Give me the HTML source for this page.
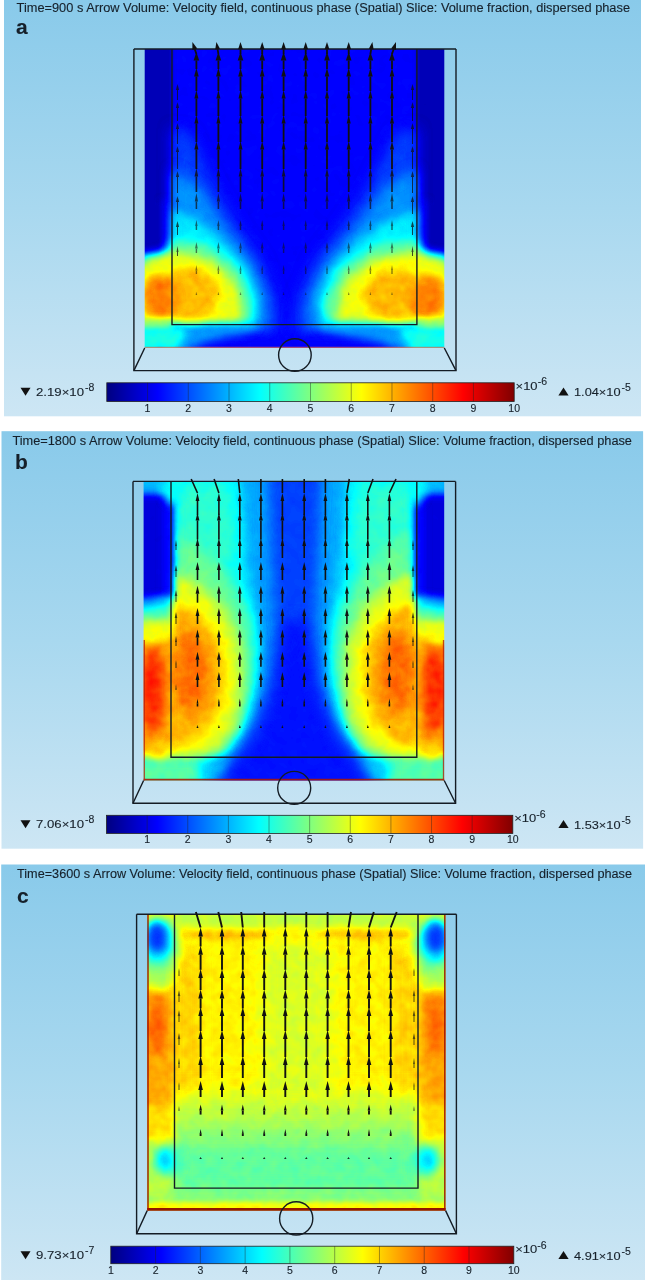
<!DOCTYPE html><html><head><meta charset="utf-8"><title>figure</title><style>html,body{margin:0;padding:0;background:#fff;width:645px;height:1280px;overflow:hidden}svg{display:block}text{font-family:"Liberation Sans",sans-serif;fill:#16202a;stroke:#16202a;stroke-width:0.12;opacity:0.999}.ar line{stroke:#111}.ar polygon{fill:#111}</style></head><body>
<svg width="645" height="1280" viewBox="0 0 645 1280">
<defs>
<linearGradient id="bg" x1="0" y1="0" x2="0" y2="1"><stop offset="0" stop-color="#89caea"/><stop offset="0.5" stop-color="#a8d8ef"/><stop offset="1" stop-color="#cde6f4"/></linearGradient>
<linearGradient id="jet" x1="0" y1="0" x2="1" y2="0"><stop offset="0" stop-color="#000080"/><stop offset="0.125" stop-color="#0000ff"/><stop offset="0.375" stop-color="#00ffff"/><stop offset="0.625" stop-color="#ffff00"/><stop offset="0.875" stop-color="#ff0000"/><stop offset="1" stop-color="#800000"/></linearGradient>
<filter id="cmap" x="0" y="0" width="1" height="1" color-interpolation-filters="sRGB"><feTurbulence type="fractalNoise" baseFrequency="0.09" numOctaves="2" seed="7" result="t"/><feColorMatrix in="t" type="matrix" values="1 0 0 0 0 1 0 0 0 0 1 0 0 0 0 0 0 0 0 1" result="n"/><feComposite in="SourceGraphic" in2="n" operator="arithmetic" k1="0.1" k2="0.95" k3="0" k4="0" result="s"/><feComponentTransfer in="s"><feFuncR type="table" tableValues="0 0 0 0 0.5 1 1 1 0.5"/><feFuncG type="table" tableValues="0 0 0.5 1 1 1 0.5 0 0"/><feFuncB type="table" tableValues="0.5 1 1 1 0.5 0 0 0 0"/></feComponentTransfer></filter>
<filter id="b2" x="-50%" y="-50%" width="200%" height="200%" color-interpolation-filters="sRGB"><feGaussianBlur stdDeviation="2"/></filter>
<filter id="b3" x="-50%" y="-50%" width="200%" height="200%" color-interpolation-filters="sRGB"><feGaussianBlur stdDeviation="3"/></filter>
<filter id="b4" x="-50%" y="-50%" width="200%" height="200%" color-interpolation-filters="sRGB"><feGaussianBlur stdDeviation="4"/></filter>
<filter id="b5" x="-50%" y="-50%" width="200%" height="200%" color-interpolation-filters="sRGB"><feGaussianBlur stdDeviation="5"/></filter>
<filter id="b6" x="-50%" y="-50%" width="200%" height="200%" color-interpolation-filters="sRGB"><feGaussianBlur stdDeviation="6"/></filter>
<filter id="b7" x="-50%" y="-50%" width="200%" height="200%" color-interpolation-filters="sRGB"><feGaussianBlur stdDeviation="7"/></filter>
<filter id="b8" x="-50%" y="-50%" width="200%" height="200%" color-interpolation-filters="sRGB"><feGaussianBlur stdDeviation="8"/></filter>
<filter id="b9" x="-50%" y="-50%" width="200%" height="200%" color-interpolation-filters="sRGB"><feGaussianBlur stdDeviation="9"/></filter>
<filter id="b10" x="-50%" y="-50%" width="200%" height="200%" color-interpolation-filters="sRGB"><feGaussianBlur stdDeviation="10"/></filter>
<clipPath id="clipa"><rect x="144.7" y="49" width="299.6" height="299"/></clipPath>
<clipPath id="clipb"><rect x="143.6" y="481.4" width="300.6" height="299.1"/></clipPath>
<clipPath id="clipc"><rect x="147.2" y="914.2" width="298.4" height="296.4"/></clipPath>
</defs>
<rect x="4" y="0" width="637" height="416.3" fill="url(#bg)"/>
<g clip-path="url(#clipa)"><g filter="url(#cmap)">
<rect x="124.7" y="29" width="339.6" height="339" fill="rgb(32,32,32)"/>
<g filter="url(#b2)">
<rect x="120" y="30" width="52" height="224" fill="rgb(14,14,14)"/>
</g>
<g filter="url(#b3)">
<rect x="160" y="200" width="12" height="66" fill="rgb(23,23,23)"/>
</g>
<g filter="url(#b7)">
<polygon points="172,128 190,133 215,188 240,230 262,262 276,300 280,330 172,330" fill="rgb(48,48,48)"/>
</g>
<g filter="url(#b6)">
<polygon points="172,168 200,188 228,230 252,262 266,295 268,328 172,328" fill="rgb(69,69,69)"/>
</g>
<g filter="url(#b5)">
<polygon points="172,210 200,222 226,244 248,270 258,300 256,326 172,326" fill="rgb(92,92,92)"/>
<polygon points="140,256 165,252 172,240 205,244 238,268 252,300 250,325 140,326" fill="rgb(122,122,122)"/>
</g>
<g filter="url(#b4)">
<polygon points="140,264 175,252 210,260 236,283 242,322 140,325" fill="rgb(156,156,156)"/>
</g>
<g filter="url(#b5)">
<ellipse cx="190" cy="295" rx="29" ry="27" fill="rgb(176,176,176)"/>
<ellipse cx="160" cy="298" rx="18" ry="24" fill="rgb(191,191,191)"/>
<polygon points="165,325 258,325 245,332 205,342 185,352 165,352" fill="rgb(71,71,71)"/>
</g>
<g filter="url(#b3)">
<rect x="130" y="318" width="42" height="12" fill="rgb(138,138,138)"/>
</g>
<g filter="url(#b4)">
<polygon points="130,328 172,326 188,330 176,352 130,352" fill="rgb(102,102,102)"/>
</g>
<g filter="url(#b2)">
<rect x="417" y="30" width="52" height="224" fill="rgb(14,14,14)"/>
</g>
<g filter="url(#b3)">
<rect x="417" y="200" width="12" height="66" fill="rgb(23,23,23)"/>
</g>
<g filter="url(#b7)">
<polygon points="417,128 396.3,133 367.55,188 338.8,230 313.5,262 297.4,300 292.8,330 417,330" fill="rgb(48,48,48)"/>
</g>
<g filter="url(#b6)">
<polygon points="417,168 384.8,188 352.6,230 325,262 308.9,295 306.6,328 417,328" fill="rgb(69,69,69)"/>
</g>
<g filter="url(#b5)">
<polygon points="417,210 384.8,222 354.9,244 329.6,270 318.1,300 320.4,326 417,326" fill="rgb(92,92,92)"/>
<polygon points="449,256 424,252 417,240 379.05,244 341.1,268 325,300 327.3,325 449,326" fill="rgb(122,122,122)"/>
</g>
<g filter="url(#b4)">
<polygon points="449,264 413.55,252 373.3,260 343.4,283 336.5,322 449,325" fill="rgb(156,156,156)"/>
</g>
<g filter="url(#b5)">
<ellipse cx="396.3" cy="295" rx="33.35" ry="27" fill="rgb(176,176,176)"/>
<ellipse cx="429" cy="298" rx="18" ry="24" fill="rgb(191,191,191)"/>
<polygon points="424,325 318.1,325 333.05,332 379.05,342 402.05,352 424,352" fill="rgb(71,71,71)"/>
</g>
<g filter="url(#b3)">
<rect x="417" y="318" width="42" height="12" fill="rgb(138,138,138)"/>
</g>
<g filter="url(#b4)">
<polygon points="459,328 417,326 398.6,330 412.4,352 459,352" fill="rgb(102,102,102)"/>
</g>
</g></g>
<line x1="144.7" y1="347.4" x2="444.3" y2="347.4" stroke="#e8704a" stroke-width="1.2" opacity="0.7"/>
<g fill="none" stroke="#141c24" stroke-width="1.4">
<path d="M133.9 49V370.6H456V49"/>
<path d="M133.9 49H456"/>
<path d="M133.9 370.6L144.7 348M456 370.6L444.3 348"/>
<path d="M172 49V324.6H416.9V49"/>
<circle cx="294.9" cy="355" r="16.3"/>
</g>
<g class="ar" style="stroke-width:1.8"><line x1="196.4" y1="54" x2="194.8" y2="49.2"/><polygon points="192.4,42 197.24,48.39 192.36,50.01"/><line x1="196.4" y1="69" x2="196.4" y2="60.5"/><polygon points="196.4,52 199.2,60.5 193.6,60.5"/><line x1="196.4" y1="91" x2="196.4" y2="76.5"/><polygon points="196.4,68 198.7,76.5 194.1,76.5"/><line x1="196.4" y1="116" x2="196.4" y2="98.5"/><polygon points="196.4,90 198.4,98.5 194.4,98.5"/><line x1="196.4" y1="142" x2="196.4" y2="123.5"/><polygon points="196.4,115 198.4,123.5 194.4,123.5"/><line x1="196.4" y1="169" x2="196.4" y2="149.5"/><polygon points="196.4,141 198.4,149.5 194.4,149.5"/><g opacity="0.85" style="stroke-width:1.67"><line x1="196.4" y1="192" x2="196.4" y2="176.5"/><polygon points="196.4,168 198.2,176.5 194.6,176.5"/></g><g opacity="0.7" style="stroke-width:1.53"><line x1="196.4" y1="209" x2="196.4" y2="201.5"/><polygon points="196.4,193 198,201.5 194.8,201.5"/></g><g opacity="0.6" style="stroke-width:1.44"><line x1="196.4" y1="230" x2="196.4" y2="226"/><polygon points="196.4,220 197.61,226 195.19,226"/></g><g opacity="0.55" style="stroke-width:1.4"><line x1="196.4" y1="253" x2="196.4" y2="248.6"/><polygon points="196.4,242 197.79,248.6 195.01,248.6"/></g><g opacity="0.5" style="stroke-width:1.35"><line x1="196.4" y1="274" x2="196.4" y2="270.4"/><polygon points="196.4,265 197.43,270.4 195.37,270.4"/></g><g opacity="0.5" style="stroke-width:1.35"><line x1="196.4" y1="295" x2="196.4" y2="293.8"/><polygon points="196.4,292 197,293.8 195.8,293.8"/></g><line x1="218.4" y1="54" x2="217.6" y2="49.2"/><polygon points="216.4,42 220,48.8 215.2,49.6"/><line x1="218.4" y1="69" x2="218.4" y2="60.5"/><polygon points="218.4,52 221.2,60.5 215.6,60.5"/><line x1="218.4" y1="91" x2="218.4" y2="76.5"/><polygon points="218.4,68 220.7,76.5 216.1,76.5"/><line x1="218.4" y1="116" x2="218.4" y2="98.5"/><polygon points="218.4,90 220.4,98.5 216.4,98.5"/><line x1="218.4" y1="142" x2="218.4" y2="123.5"/><polygon points="218.4,115 220.4,123.5 216.4,123.5"/><line x1="218.4" y1="169" x2="218.4" y2="149.5"/><polygon points="218.4,141 220.4,149.5 216.4,149.5"/><g opacity="0.85" style="stroke-width:1.67"><line x1="218.4" y1="192" x2="218.4" y2="176.5"/><polygon points="218.4,168 220.2,176.5 216.6,176.5"/></g><g opacity="0.7" style="stroke-width:1.53"><line x1="218.4" y1="209" x2="218.4" y2="201.5"/><polygon points="218.4,193 220,201.5 216.8,201.5"/></g><g opacity="0.6" style="stroke-width:1.44"><line x1="218.4" y1="230" x2="218.4" y2="226"/><polygon points="218.4,220 219.61,226 217.19,226"/></g><g opacity="0.55" style="stroke-width:1.4"><line x1="218.4" y1="253" x2="218.4" y2="248.6"/><polygon points="218.4,242 219.79,248.6 217.01,248.6"/></g><g opacity="0.5" style="stroke-width:1.35"><line x1="218.4" y1="274" x2="218.4" y2="270.4"/><polygon points="218.4,265 219.43,270.4 217.37,270.4"/></g><g opacity="0.5" style="stroke-width:1.35"><line x1="218.4" y1="295" x2="218.4" y2="293.8"/><polygon points="218.4,292 219,293.8 217.8,293.8"/></g><line x1="240.5" y1="54" x2="240.5" y2="49.2"/><polygon points="240.5,42 242.88,49.2 238.12,49.2"/><line x1="240.5" y1="69" x2="240.5" y2="60.5"/><polygon points="240.5,52 243.3,60.5 237.7,60.5"/><line x1="240.5" y1="91" x2="240.5" y2="76.5"/><polygon points="240.5,68 242.8,76.5 238.2,76.5"/><line x1="240.5" y1="116" x2="240.5" y2="98.5"/><polygon points="240.5,90 242.5,98.5 238.5,98.5"/><line x1="240.5" y1="142" x2="240.5" y2="123.5"/><polygon points="240.5,115 242.5,123.5 238.5,123.5"/><line x1="240.5" y1="169" x2="240.5" y2="149.5"/><polygon points="240.5,141 242.5,149.5 238.5,149.5"/><g opacity="0.85" style="stroke-width:1.67"><line x1="240.5" y1="192" x2="240.5" y2="176.5"/><polygon points="240.5,168 242.3,176.5 238.7,176.5"/></g><g opacity="0.7" style="stroke-width:1.53"><line x1="240.5" y1="209" x2="240.5" y2="201.5"/><polygon points="240.5,193 242.1,201.5 238.9,201.5"/></g><g opacity="0.6" style="stroke-width:1.44"><line x1="240.5" y1="230" x2="240.5" y2="226"/><polygon points="240.5,220 241.71,226 239.29,226"/></g><g opacity="0.55" style="stroke-width:1.4"><line x1="240.5" y1="253" x2="240.5" y2="248.6"/><polygon points="240.5,242 241.89,248.6 239.11,248.6"/></g><g opacity="0.5" style="stroke-width:1.35"><line x1="240.5" y1="274" x2="240.5" y2="270.4"/><polygon points="240.5,265 241.53,270.4 239.47,270.4"/></g><g opacity="0.5" style="stroke-width:1.35"><line x1="240.5" y1="295" x2="240.5" y2="293.8"/><polygon points="240.5,292 241.1,293.8 239.9,293.8"/></g><line x1="262.2" y1="54" x2="262.2" y2="49.2"/><polygon points="262.2,42 264.58,49.2 259.82,49.2"/><line x1="262.2" y1="69" x2="262.2" y2="60.5"/><polygon points="262.2,52 265,60.5 259.4,60.5"/><line x1="262.2" y1="91" x2="262.2" y2="76.5"/><polygon points="262.2,68 264.5,76.5 259.9,76.5"/><line x1="262.2" y1="116" x2="262.2" y2="98.5"/><polygon points="262.2,90 264.2,98.5 260.2,98.5"/><line x1="262.2" y1="142" x2="262.2" y2="123.5"/><polygon points="262.2,115 264.2,123.5 260.2,123.5"/><line x1="262.2" y1="169" x2="262.2" y2="149.5"/><polygon points="262.2,141 264.2,149.5 260.2,149.5"/><g opacity="0.85" style="stroke-width:1.67"><line x1="262.2" y1="192" x2="262.2" y2="176.5"/><polygon points="262.2,168 264,176.5 260.4,176.5"/></g><g opacity="0.7" style="stroke-width:1.53"><line x1="262.2" y1="209" x2="262.2" y2="201.5"/><polygon points="262.2,193 263.8,201.5 260.6,201.5"/></g><g opacity="0.6" style="stroke-width:1.44"><line x1="262.2" y1="230" x2="262.2" y2="226"/><polygon points="262.2,220 263.41,226 260.99,226"/></g><g opacity="0.55" style="stroke-width:1.4"><line x1="262.2" y1="253" x2="262.2" y2="248.6"/><polygon points="262.2,242 263.59,248.6 260.81,248.6"/></g><g opacity="0.5" style="stroke-width:1.35"><line x1="262.2" y1="274" x2="262.2" y2="270.4"/><polygon points="262.2,265 263.23,270.4 261.17,270.4"/></g><g opacity="0.5" style="stroke-width:1.35"><line x1="262.2" y1="295" x2="262.2" y2="293.8"/><polygon points="262.2,292 262.8,293.8 261.6,293.8"/></g><line x1="283.6" y1="54" x2="283.6" y2="49.2"/><polygon points="283.6,42 285.98,49.2 281.22,49.2"/><line x1="283.6" y1="69" x2="283.6" y2="60.5"/><polygon points="283.6,52 286.4,60.5 280.8,60.5"/><line x1="283.6" y1="91" x2="283.6" y2="76.5"/><polygon points="283.6,68 285.9,76.5 281.3,76.5"/><line x1="283.6" y1="116" x2="283.6" y2="98.5"/><polygon points="283.6,90 285.6,98.5 281.6,98.5"/><line x1="283.6" y1="142" x2="283.6" y2="123.5"/><polygon points="283.6,115 285.6,123.5 281.6,123.5"/><line x1="283.6" y1="169" x2="283.6" y2="149.5"/><polygon points="283.6,141 285.6,149.5 281.6,149.5"/><g opacity="0.85" style="stroke-width:1.67"><line x1="283.6" y1="192" x2="283.6" y2="176.5"/><polygon points="283.6,168 285.4,176.5 281.8,176.5"/></g><g opacity="0.7" style="stroke-width:1.53"><line x1="283.6" y1="209" x2="283.6" y2="201.5"/><polygon points="283.6,193 285.2,201.5 282,201.5"/></g><g opacity="0.6" style="stroke-width:1.44"><line x1="283.6" y1="230" x2="283.6" y2="226"/><polygon points="283.6,220 284.81,226 282.39,226"/></g><g opacity="0.55" style="stroke-width:1.4"><line x1="283.6" y1="253" x2="283.6" y2="248.6"/><polygon points="283.6,242 284.99,248.6 282.21,248.6"/></g><g opacity="0.5" style="stroke-width:1.35"><line x1="283.6" y1="274" x2="283.6" y2="270.4"/><polygon points="283.6,265 284.63,270.4 282.57,270.4"/></g><g opacity="0.5" style="stroke-width:1.35"><line x1="283.6" y1="295" x2="283.6" y2="293.8"/><polygon points="283.6,292 284.2,293.8 283,293.8"/></g><line x1="305.7" y1="54" x2="305.7" y2="49.2"/><polygon points="305.7,42 308.08,49.2 303.32,49.2"/><line x1="305.7" y1="69" x2="305.7" y2="60.5"/><polygon points="305.7,52 308.5,60.5 302.9,60.5"/><line x1="305.7" y1="91" x2="305.7" y2="76.5"/><polygon points="305.7,68 308,76.5 303.4,76.5"/><line x1="305.7" y1="116" x2="305.7" y2="98.5"/><polygon points="305.7,90 307.7,98.5 303.7,98.5"/><line x1="305.7" y1="142" x2="305.7" y2="123.5"/><polygon points="305.7,115 307.7,123.5 303.7,123.5"/><line x1="305.7" y1="169" x2="305.7" y2="149.5"/><polygon points="305.7,141 307.7,149.5 303.7,149.5"/><g opacity="0.85" style="stroke-width:1.67"><line x1="305.7" y1="192" x2="305.7" y2="176.5"/><polygon points="305.7,168 307.5,176.5 303.9,176.5"/></g><g opacity="0.7" style="stroke-width:1.53"><line x1="305.7" y1="209" x2="305.7" y2="201.5"/><polygon points="305.7,193 307.3,201.5 304.1,201.5"/></g><g opacity="0.6" style="stroke-width:1.44"><line x1="305.7" y1="230" x2="305.7" y2="226"/><polygon points="305.7,220 306.91,226 304.49,226"/></g><g opacity="0.55" style="stroke-width:1.4"><line x1="305.7" y1="253" x2="305.7" y2="248.6"/><polygon points="305.7,242 307.09,248.6 304.31,248.6"/></g><g opacity="0.5" style="stroke-width:1.35"><line x1="305.7" y1="274" x2="305.7" y2="270.4"/><polygon points="305.7,265 306.73,270.4 304.67,270.4"/></g><g opacity="0.5" style="stroke-width:1.35"><line x1="305.7" y1="295" x2="305.7" y2="293.8"/><polygon points="305.7,292 306.3,293.8 305.1,293.8"/></g><line x1="327" y1="54" x2="327" y2="49.2"/><polygon points="327,42 329.38,49.2 324.62,49.2"/><line x1="327" y1="69" x2="327" y2="60.5"/><polygon points="327,52 329.8,60.5 324.2,60.5"/><line x1="327" y1="91" x2="327" y2="76.5"/><polygon points="327,68 329.3,76.5 324.7,76.5"/><line x1="327" y1="116" x2="327" y2="98.5"/><polygon points="327,90 329,98.5 325,98.5"/><line x1="327" y1="142" x2="327" y2="123.5"/><polygon points="327,115 329,123.5 325,123.5"/><line x1="327" y1="169" x2="327" y2="149.5"/><polygon points="327,141 329,149.5 325,149.5"/><g opacity="0.85" style="stroke-width:1.67"><line x1="327" y1="192" x2="327" y2="176.5"/><polygon points="327,168 328.8,176.5 325.2,176.5"/></g><g opacity="0.7" style="stroke-width:1.53"><line x1="327" y1="209" x2="327" y2="201.5"/><polygon points="327,193 328.6,201.5 325.4,201.5"/></g><g opacity="0.6" style="stroke-width:1.44"><line x1="327" y1="230" x2="327" y2="226"/><polygon points="327,220 328.21,226 325.79,226"/></g><g opacity="0.55" style="stroke-width:1.4"><line x1="327" y1="253" x2="327" y2="248.6"/><polygon points="327,242 328.39,248.6 325.61,248.6"/></g><g opacity="0.5" style="stroke-width:1.35"><line x1="327" y1="274" x2="327" y2="270.4"/><polygon points="327,265 328.03,270.4 325.97,270.4"/></g><g opacity="0.5" style="stroke-width:1.35"><line x1="327" y1="295" x2="327" y2="293.8"/><polygon points="327,292 327.6,293.8 326.4,293.8"/></g><line x1="348.7" y1="54" x2="348.7" y2="49.2"/><polygon points="348.7,42 351.08,49.2 346.32,49.2"/><line x1="348.7" y1="69" x2="348.7" y2="60.5"/><polygon points="348.7,52 351.5,60.5 345.9,60.5"/><line x1="348.7" y1="91" x2="348.7" y2="76.5"/><polygon points="348.7,68 351,76.5 346.4,76.5"/><line x1="348.7" y1="116" x2="348.7" y2="98.5"/><polygon points="348.7,90 350.7,98.5 346.7,98.5"/><line x1="348.7" y1="142" x2="348.7" y2="123.5"/><polygon points="348.7,115 350.7,123.5 346.7,123.5"/><line x1="348.7" y1="169" x2="348.7" y2="149.5"/><polygon points="348.7,141 350.7,149.5 346.7,149.5"/><g opacity="0.85" style="stroke-width:1.67"><line x1="348.7" y1="192" x2="348.7" y2="176.5"/><polygon points="348.7,168 350.5,176.5 346.9,176.5"/></g><g opacity="0.7" style="stroke-width:1.53"><line x1="348.7" y1="209" x2="348.7" y2="201.5"/><polygon points="348.7,193 350.3,201.5 347.1,201.5"/></g><g opacity="0.6" style="stroke-width:1.44"><line x1="348.7" y1="230" x2="348.7" y2="226"/><polygon points="348.7,220 349.91,226 347.49,226"/></g><g opacity="0.55" style="stroke-width:1.4"><line x1="348.7" y1="253" x2="348.7" y2="248.6"/><polygon points="348.7,242 350.09,248.6 347.31,248.6"/></g><g opacity="0.5" style="stroke-width:1.35"><line x1="348.7" y1="274" x2="348.7" y2="270.4"/><polygon points="348.7,265 349.73,270.4 347.67,270.4"/></g><g opacity="0.5" style="stroke-width:1.35"><line x1="348.7" y1="295" x2="348.7" y2="293.8"/><polygon points="348.7,292 349.3,293.8 348.1,293.8"/></g><line x1="370.4" y1="54" x2="371.2" y2="49.2"/><polygon points="372.4,42 373.6,49.6 368.8,48.8"/><line x1="370.4" y1="69" x2="370.4" y2="60.5"/><polygon points="370.4,52 373.2,60.5 367.6,60.5"/><line x1="370.4" y1="91" x2="370.4" y2="76.5"/><polygon points="370.4,68 372.7,76.5 368.1,76.5"/><line x1="370.4" y1="116" x2="370.4" y2="98.5"/><polygon points="370.4,90 372.4,98.5 368.4,98.5"/><line x1="370.4" y1="142" x2="370.4" y2="123.5"/><polygon points="370.4,115 372.4,123.5 368.4,123.5"/><line x1="370.4" y1="169" x2="370.4" y2="149.5"/><polygon points="370.4,141 372.4,149.5 368.4,149.5"/><g opacity="0.85" style="stroke-width:1.67"><line x1="370.4" y1="192" x2="370.4" y2="176.5"/><polygon points="370.4,168 372.2,176.5 368.6,176.5"/></g><g opacity="0.7" style="stroke-width:1.53"><line x1="370.4" y1="209" x2="370.4" y2="201.5"/><polygon points="370.4,193 372,201.5 368.8,201.5"/></g><g opacity="0.6" style="stroke-width:1.44"><line x1="370.4" y1="230" x2="370.4" y2="226"/><polygon points="370.4,220 371.61,226 369.19,226"/></g><g opacity="0.55" style="stroke-width:1.4"><line x1="370.4" y1="253" x2="370.4" y2="248.6"/><polygon points="370.4,242 371.79,248.6 369.01,248.6"/></g><g opacity="0.5" style="stroke-width:1.35"><line x1="370.4" y1="274" x2="370.4" y2="270.4"/><polygon points="370.4,265 371.43,270.4 369.37,270.4"/></g><g opacity="0.5" style="stroke-width:1.35"><line x1="370.4" y1="295" x2="370.4" y2="293.8"/><polygon points="370.4,292 371,293.8 369.8,293.8"/></g><line x1="392" y1="54" x2="393.6" y2="49.2"/><polygon points="396,42 396.04,50.01 391.16,48.39"/><line x1="392" y1="69" x2="392" y2="60.5"/><polygon points="392,52 394.8,60.5 389.2,60.5"/><line x1="392" y1="91" x2="392" y2="76.5"/><polygon points="392,68 394.3,76.5 389.7,76.5"/><line x1="392" y1="116" x2="392" y2="98.5"/><polygon points="392,90 394,98.5 390,98.5"/><line x1="392" y1="142" x2="392" y2="123.5"/><polygon points="392,115 394,123.5 390,123.5"/><line x1="392" y1="169" x2="392" y2="149.5"/><polygon points="392,141 394,149.5 390,149.5"/><g opacity="0.85" style="stroke-width:1.67"><line x1="392" y1="192" x2="392" y2="176.5"/><polygon points="392,168 393.8,176.5 390.2,176.5"/></g><g opacity="0.7" style="stroke-width:1.53"><line x1="392" y1="209" x2="392" y2="201.5"/><polygon points="392,193 393.6,201.5 390.4,201.5"/></g><g opacity="0.6" style="stroke-width:1.44"><line x1="392" y1="230" x2="392" y2="226"/><polygon points="392,220 393.21,226 390.79,226"/></g><g opacity="0.55" style="stroke-width:1.4"><line x1="392" y1="253" x2="392" y2="248.6"/><polygon points="392,242 393.39,248.6 390.61,248.6"/></g><g opacity="0.5" style="stroke-width:1.35"><line x1="392" y1="274" x2="392" y2="270.4"/><polygon points="392,265 393.03,270.4 390.97,270.4"/></g><g opacity="0.5" style="stroke-width:1.35"><line x1="392" y1="295" x2="392" y2="293.8"/><polygon points="392,292 392.6,293.8 391.4,293.8"/></g></g><g class="ar" style="stroke-width:1" opacity="0.75"><line x1="177.5" y1="100" x2="177.5" y2="90"/><polygon points="177.5,84 179.1,90 175.9,90"/><line x1="177.5" y1="121" x2="177.5" y2="108"/><polygon points="177.5,102 179.1,108 175.9,108"/><line x1="177.5" y1="144" x2="177.5" y2="129"/><polygon points="177.5,123 179.1,129 175.9,129"/><line x1="177.5" y1="169" x2="177.5" y2="152"/><polygon points="177.5,146 179.1,152 175.9,152"/><line x1="177.5" y1="193" x2="177.5" y2="177"/><polygon points="177.5,171 179.1,177 175.9,177"/><line x1="177.5" y1="214" x2="177.5" y2="202"/><polygon points="177.5,196 179.1,202 175.9,202"/><line x1="177.5" y1="235" x2="177.5" y2="227"/><polygon points="177.5,221 179.1,227 175.9,227"/><line x1="177.5" y1="256" x2="177.5" y2="252"/><polygon points="177.5,246 178.47,252 176.53,252"/><line x1="412.5" y1="100" x2="412.5" y2="90"/><polygon points="412.5,84 414.1,90 410.9,90"/><line x1="412.5" y1="121" x2="412.5" y2="108"/><polygon points="412.5,102 414.1,108 410.9,108"/><line x1="412.5" y1="144" x2="412.5" y2="129"/><polygon points="412.5,123 414.1,129 410.9,129"/><line x1="412.5" y1="169" x2="412.5" y2="152"/><polygon points="412.5,146 414.1,152 410.9,152"/><line x1="412.5" y1="193" x2="412.5" y2="177"/><polygon points="412.5,171 414.1,177 410.9,177"/><line x1="412.5" y1="214" x2="412.5" y2="202"/><polygon points="412.5,196 414.1,202 410.9,202"/><line x1="412.5" y1="235" x2="412.5" y2="227"/><polygon points="412.5,221 414.1,227 410.9,227"/><line x1="412.5" y1="256" x2="412.5" y2="252"/><polygon points="412.5,246 413.47,252 411.53,252"/></g>
<rect x="106.8" y="382.8" width="407.4" height="18.7" fill="url(#jet)" stroke="#222" stroke-width="0.8"/>
<path d="M147.54 382.8V401.5M188.28 382.8V401.5M229.02 382.8V401.5M269.76 382.8V401.5M310.5 382.8V401.5M351.24 382.8V401.5M391.98 382.8V401.5M432.72 382.8V401.5M473.46 382.8V401.5" stroke="#222" stroke-width="0.7" stroke-opacity="0.6"/>
<text x="147.54" y="411.5" font-size="10.5" text-anchor="middle">1</text>
<text x="188.28" y="411.5" font-size="10.5" text-anchor="middle">2</text>
<text x="229.02" y="411.5" font-size="10.5" text-anchor="middle">3</text>
<text x="269.76" y="411.5" font-size="10.5" text-anchor="middle">4</text>
<text x="310.5" y="411.5" font-size="10.5" text-anchor="middle">5</text>
<text x="351.24" y="411.5" font-size="10.5" text-anchor="middle">6</text>
<text x="391.98" y="411.5" font-size="10.5" text-anchor="middle">7</text>
<text x="432.72" y="411.5" font-size="10.5" text-anchor="middle">8</text>
<text x="473.46" y="411.5" font-size="10.5" text-anchor="middle">9</text>
<text x="514.2" y="411.5" font-size="10.5" text-anchor="middle">10</text>
<text x="16.6" y="12" font-size="12" stroke="#16202a" stroke-width="0.15" textLength="613.4" lengthAdjust="spacingAndGlyphs">Time=900 s Arrow Volume: Velocity field, continuous phase (Spatial) Slice: Volume fraction, dispersed phase</text>
<text x="16" y="34" font-size="21" font-weight="bold" fill="#000">a</text>
<path d="M20.5 387.8H30.5L25.5 395.8Z" fill="#111"/>
<text x="36" y="395.6" font-size="11.3" textLength="48" lengthAdjust="spacingAndGlyphs">2.19×10</text>
<text x="85" y="390.6" font-size="10.5">-8</text>
<text x="515.6" y="389.7" font-size="11.3" textLength="22" lengthAdjust="spacingAndGlyphs">×10</text>
<text x="537.7" y="385.2" font-size="10.5">-6</text>
<path d="M558.4 395.6H568.6L563.5 387.6Z" fill="#111"/>
<text x="574" y="396.2" font-size="11.3" textLength="46.5" lengthAdjust="spacingAndGlyphs">1.04×10</text>
<text x="621.5" y="391.2" font-size="10.5">-5</text>
<rect x="1.5" y="431.2" width="641.6" height="417.5" fill="url(#bg)"/>
<g clip-path="url(#clipb)"><g filter="url(#cmap)">
<rect x="123.6" y="461.4" width="340.6" height="339.1" fill="rgb(64,64,64)"/>
<g filter="url(#b7)">
<polygon points="160,450 266,450 268,560 268,640 262,690 250,725 232,748 200,768 160,790" fill="rgb(74,74,74)"/>
</g>
<g filter="url(#b6)">
<polygon points="160,450 240,450 246,560 258,630 252,690 240,722 222,745 190,765 160,785" fill="rgb(94,94,94)"/>
</g>
<g filter="url(#b7)">
<polygon points="172,483 228,483 238,545 225,572 172,578" fill="rgb(107,107,107)"/>
<polygon points="172,530 200,548 230,575 250,620 255,660 250,700 242,730 228,752 200,765 172,770" fill="rgb(122,122,122)"/>
</g>
<g filter="url(#b6)">
<polygon points="165,568 200,585 225,610 240,645 242,690 235,725 220,748 200,758 165,760" fill="rgb(153,153,153)"/>
<polygon points="165,598 200,612 222,645 225,690 215,722 195,742 165,750" fill="rgb(178,178,178)"/>
</g>
<g filter="url(#b7)">
<ellipse cx="190" cy="672" rx="18" ry="42" fill="rgb(196,196,196)"/>
</g>
<g filter="url(#b4)">
<polygon points="120,494 172,494 172,598 120,604" fill="rgb(23,23,23)"/>
</g>
<g filter="url(#b3)">
<rect x="163" y="505" width="9" height="91" fill="rgb(33,33,33)"/>
<rect x="120" y="450" width="52" height="41" fill="rgb(79,79,79)"/>
</g>
<g filter="url(#b4)">
<ellipse cx="172" cy="488" rx="9" ry="16" fill="rgb(97,97,97)"/>
<polygon points="120,602 172,596 172,608 120,612" fill="rgb(71,71,71)"/>
<polygon points="120,612 172,604 172,622 120,624" fill="rgb(112,112,112)"/>
<polygon points="120,622 172,619 172,642 120,643" fill="rgb(156,156,156)"/>
</g>
<g filter="url(#b5)">
<polygon points="120,640 172,638 172,745 120,765" fill="rgb(186,186,186)"/>
<ellipse cx="153" cy="690" rx="12" ry="42" fill="rgb(212,212,212)"/>
</g>
<g filter="url(#b4)">
<ellipse cx="156" cy="752" rx="14" ry="12" fill="rgb(173,173,173)"/>
</g>
<g filter="url(#b5)">
<polygon points="130,760 200,760 215,790 130,790" fill="rgb(117,117,117)"/>
</g>
<g filter="url(#b6)">
<polygon points="200,760 235,760 250,790 200,790" fill="rgb(84,84,84)"/>
</g>
<g filter="url(#b7)">
<polygon points="428,450 322,450 320,560 320,640 326,690 338,725 356,748 388,768 428,790" fill="rgb(74,74,74)"/>
</g>
<g filter="url(#b6)">
<polygon points="428,450 348,450 342,560 330,630 336,690 348,722 366,745 398,765 428,785" fill="rgb(94,94,94)"/>
</g>
<g filter="url(#b7)">
<polygon points="416,483 360,483 350,545 363,572 416,578" fill="rgb(107,107,107)"/>
<polygon points="416,530 388,548 358,575 338,620 333,660 338,700 346,730 360,752 388,765 416,770" fill="rgb(122,122,122)"/>
</g>
<g filter="url(#b6)">
<polygon points="423,568 388,585 363,610 348,645 346,690 353,725 368,748 388,758 423,760" fill="rgb(153,153,153)"/>
<polygon points="423,598 388,612 366,645 363,690 373,722 393,742 423,750" fill="rgb(178,178,178)"/>
</g>
<g filter="url(#b7)">
<ellipse cx="398" cy="672" rx="18" ry="42" fill="rgb(196,196,196)"/>
</g>
<g filter="url(#b4)">
<polygon points="468,494 416,494 416,598 468,604" fill="rgb(23,23,23)"/>
</g>
<g filter="url(#b3)">
<rect x="416" y="505" width="9" height="91" fill="rgb(33,33,33)"/>
<rect x="416" y="450" width="52" height="41" fill="rgb(79,79,79)"/>
</g>
<g filter="url(#b4)">
<ellipse cx="416" cy="488" rx="9" ry="16" fill="rgb(97,97,97)"/>
<polygon points="468,602 416,596 416,608 468,612" fill="rgb(71,71,71)"/>
<polygon points="468,612 416,604 416,622 468,624" fill="rgb(112,112,112)"/>
<polygon points="468,622 416,619 416,642 468,643" fill="rgb(156,156,156)"/>
</g>
<g filter="url(#b5)">
<polygon points="468,640 416,638 416,745 468,765" fill="rgb(186,186,186)"/>
<ellipse cx="435" cy="690" rx="12" ry="42" fill="rgb(212,212,212)"/>
</g>
<g filter="url(#b4)">
<ellipse cx="432" cy="752" rx="14" ry="12" fill="rgb(173,173,173)"/>
</g>
<g filter="url(#b5)">
<polygon points="458,760 388,760 373,790 458,790" fill="rgb(117,117,117)"/>
</g>
<g filter="url(#b6)">
<polygon points="388,760 353,760 338,790 388,790" fill="rgb(84,84,84)"/>
<polygon points="271,450 321,450 316,560 312,620 318,680 330,720 350,750 380,790 210,790 240,750 260,720 272,680 278,620 274,560" fill="rgb(48,48,48)"/>
</g>
<g filter="url(#b7)">
<polygon points="285,620 305,620 315,690 335,740 360,770 370,800 220,800 230,770 255,740 275,690" fill="rgb(36,36,36)"/>
</g>
</g></g>
<line x1="143.6" y1="779.6" x2="444.2" y2="779.6" stroke="#a81808" stroke-width="1.8" opacity="0.9"/>
<line x1="144.3" y1="640" x2="144.3" y2="780.5" stroke="#b82010" stroke-width="1.3" opacity="0.8"/>
<line x1="443.5" y1="640" x2="443.5" y2="780.5" stroke="#b82010" stroke-width="1.3" opacity="0.8"/>
<g fill="none" stroke="#141c24" stroke-width="1.4">
<path d="M133 481.4V803.3H455.6V481.4"/>
<path d="M133 481.4H455.6"/>
<path d="M133 803.3L143.6 780.5M455.6 803.3L444.2 780.5"/>
<path d="M171 481.4V757.2H416.8V481.4"/>
<circle cx="294.2" cy="787.9" r="16.5"/>
</g>
<g class="ar" style="stroke-width:1.6"><line x1="197.5" y1="515" x2="197.5" y2="501"/><polygon points="197.5,493 199.4,501 195.6,501"/><line x1="197.5" y1="539.5" x2="197.5" y2="520.5"/><polygon points="197.5,512.5 199.4,520.5 195.6,520.5"/><line x1="197.5" y1="558" x2="197.5" y2="546"/><polygon points="197.5,538 199.4,546 195.6,546"/><line x1="197.5" y1="580" x2="197.5" y2="570"/><polygon points="197.5,562 199.4,570 195.6,570"/><line x1="197.5" y1="602.7" x2="197.5" y2="593.7"/><polygon points="197.5,585.7 199.4,593.7 195.6,593.7"/><line x1="197.5" y1="624" x2="197.5" y2="616"/><polygon points="197.5,608 199.4,616 195.6,616"/><line x1="197.5" y1="645.4" x2="197.5" y2="637.4"/><polygon points="197.5,629.4 199.4,637.4 195.6,637.4"/><line x1="197.5" y1="666.7" x2="197.5" y2="659.7"/><polygon points="197.5,651.7 199.4,659.7 195.6,659.7"/><line x1="197.5" y1="687" x2="197.5" y2="680"/><polygon points="197.5,672 199.4,680 195.6,680"/><line x1="197.5" y1="706.5" x2="197.5" y2="703.3"/><polygon points="197.5,698.5 198.32,703.3 196.68,703.3"/><line x1="197.5" y1="728" x2="197.5" y2="726.8"/><polygon points="197.5,725 198.07,726.8 196.93,726.8"/><line x1="197.5" y1="493" x2="191.2" y2="479"/><line x1="218.9" y1="515" x2="218.9" y2="501"/><polygon points="218.9,493 220.8,501 217,501"/><line x1="218.9" y1="539.5" x2="218.9" y2="520.5"/><polygon points="218.9,512.5 220.8,520.5 217,520.5"/><line x1="218.9" y1="558" x2="218.9" y2="546"/><polygon points="218.9,538 220.8,546 217,546"/><line x1="218.9" y1="580" x2="218.9" y2="570"/><polygon points="218.9,562 220.8,570 217,570"/><line x1="218.9" y1="602.7" x2="218.9" y2="593.7"/><polygon points="218.9,585.7 220.8,593.7 217,593.7"/><line x1="218.9" y1="624" x2="218.9" y2="616"/><polygon points="218.9,608 220.8,616 217,616"/><line x1="218.9" y1="645.4" x2="218.9" y2="637.4"/><polygon points="218.9,629.4 220.8,637.4 217,637.4"/><line x1="218.9" y1="666.7" x2="218.9" y2="659.7"/><polygon points="218.9,651.7 220.8,659.7 217,659.7"/><line x1="218.9" y1="687" x2="218.9" y2="680"/><polygon points="218.9,672 220.8,680 217,680"/><line x1="218.9" y1="706.5" x2="218.9" y2="703.3"/><polygon points="218.9,698.5 219.72,703.3 218.08,703.3"/><line x1="218.9" y1="728" x2="218.9" y2="726.8"/><polygon points="218.9,725 219.47,726.8 218.33,726.8"/><line x1="218.9" y1="493" x2="214.1" y2="479"/><line x1="239.8" y1="515" x2="239.8" y2="501"/><polygon points="239.8,493 241.7,501 237.9,501"/><line x1="239.8" y1="539.5" x2="239.8" y2="520.5"/><polygon points="239.8,512.5 241.7,520.5 237.9,520.5"/><line x1="239.8" y1="558" x2="239.8" y2="546"/><polygon points="239.8,538 241.7,546 237.9,546"/><line x1="239.8" y1="580" x2="239.8" y2="570"/><polygon points="239.8,562 241.7,570 237.9,570"/><line x1="239.8" y1="602.7" x2="239.8" y2="593.7"/><polygon points="239.8,585.7 241.7,593.7 237.9,593.7"/><line x1="239.8" y1="624" x2="239.8" y2="616"/><polygon points="239.8,608 241.7,616 237.9,616"/><line x1="239.8" y1="645.4" x2="239.8" y2="637.4"/><polygon points="239.8,629.4 241.7,637.4 237.9,637.4"/><line x1="239.8" y1="666.7" x2="239.8" y2="659.7"/><polygon points="239.8,651.7 241.7,659.7 237.9,659.7"/><line x1="239.8" y1="687" x2="239.8" y2="680"/><polygon points="239.8,672 241.7,680 237.9,680"/><line x1="239.8" y1="706.5" x2="239.8" y2="703.3"/><polygon points="239.8,698.5 240.62,703.3 238.98,703.3"/><line x1="239.8" y1="728" x2="239.8" y2="726.8"/><polygon points="239.8,725 240.37,726.8 239.23,726.8"/><line x1="239.8" y1="493" x2="238.3" y2="479"/><line x1="260.9" y1="515" x2="260.9" y2="501"/><polygon points="260.9,493 262.8,501 259,501"/><line x1="260.9" y1="539.5" x2="260.9" y2="520.5"/><polygon points="260.9,512.5 262.8,520.5 259,520.5"/><line x1="260.9" y1="558" x2="260.9" y2="546"/><polygon points="260.9,538 262.8,546 259,546"/><line x1="260.9" y1="580" x2="260.9" y2="570"/><polygon points="260.9,562 262.8,570 259,570"/><line x1="260.9" y1="602.7" x2="260.9" y2="593.7"/><polygon points="260.9,585.7 262.8,593.7 259,593.7"/><line x1="260.9" y1="624" x2="260.9" y2="616"/><polygon points="260.9,608 262.8,616 259,616"/><line x1="260.9" y1="645.4" x2="260.9" y2="637.4"/><polygon points="260.9,629.4 262.8,637.4 259,637.4"/><line x1="260.9" y1="666.7" x2="260.9" y2="659.7"/><polygon points="260.9,651.7 262.8,659.7 259,659.7"/><line x1="260.9" y1="687" x2="260.9" y2="680"/><polygon points="260.9,672 262.8,680 259,680"/><line x1="260.9" y1="706.5" x2="260.9" y2="703.3"/><polygon points="260.9,698.5 261.72,703.3 260.08,703.3"/><line x1="260.9" y1="728" x2="260.9" y2="726.8"/><polygon points="260.9,725 261.47,726.8 260.33,726.8"/><line x1="260.9" y1="493" x2="260.9" y2="479"/><line x1="282.4" y1="515" x2="282.4" y2="501"/><polygon points="282.4,493 284.3,501 280.5,501"/><line x1="282.4" y1="539.5" x2="282.4" y2="520.5"/><polygon points="282.4,512.5 284.3,520.5 280.5,520.5"/><line x1="282.4" y1="558" x2="282.4" y2="546"/><polygon points="282.4,538 284.3,546 280.5,546"/><line x1="282.4" y1="580" x2="282.4" y2="570"/><polygon points="282.4,562 284.3,570 280.5,570"/><line x1="282.4" y1="602.7" x2="282.4" y2="593.7"/><polygon points="282.4,585.7 284.3,593.7 280.5,593.7"/><line x1="282.4" y1="624" x2="282.4" y2="616"/><polygon points="282.4,608 284.3,616 280.5,616"/><line x1="282.4" y1="645.4" x2="282.4" y2="637.4"/><polygon points="282.4,629.4 284.3,637.4 280.5,637.4"/><line x1="282.4" y1="666.7" x2="282.4" y2="659.7"/><polygon points="282.4,651.7 284.3,659.7 280.5,659.7"/><line x1="282.4" y1="687" x2="282.4" y2="680"/><polygon points="282.4,672 284.3,680 280.5,680"/><line x1="282.4" y1="706.5" x2="282.4" y2="703.3"/><polygon points="282.4,698.5 283.22,703.3 281.58,703.3"/><line x1="282.4" y1="728" x2="282.4" y2="726.8"/><polygon points="282.4,725 282.97,726.8 281.83,726.8"/><line x1="282.4" y1="493" x2="282.4" y2="479"/><line x1="304.2" y1="515" x2="304.2" y2="501"/><polygon points="304.2,493 306.1,501 302.3,501"/><line x1="304.2" y1="539.5" x2="304.2" y2="520.5"/><polygon points="304.2,512.5 306.1,520.5 302.3,520.5"/><line x1="304.2" y1="558" x2="304.2" y2="546"/><polygon points="304.2,538 306.1,546 302.3,546"/><line x1="304.2" y1="580" x2="304.2" y2="570"/><polygon points="304.2,562 306.1,570 302.3,570"/><line x1="304.2" y1="602.7" x2="304.2" y2="593.7"/><polygon points="304.2,585.7 306.1,593.7 302.3,593.7"/><line x1="304.2" y1="624" x2="304.2" y2="616"/><polygon points="304.2,608 306.1,616 302.3,616"/><line x1="304.2" y1="645.4" x2="304.2" y2="637.4"/><polygon points="304.2,629.4 306.1,637.4 302.3,637.4"/><line x1="304.2" y1="666.7" x2="304.2" y2="659.7"/><polygon points="304.2,651.7 306.1,659.7 302.3,659.7"/><line x1="304.2" y1="687" x2="304.2" y2="680"/><polygon points="304.2,672 306.1,680 302.3,680"/><line x1="304.2" y1="706.5" x2="304.2" y2="703.3"/><polygon points="304.2,698.5 305.02,703.3 303.38,703.3"/><line x1="304.2" y1="728" x2="304.2" y2="726.8"/><polygon points="304.2,725 304.77,726.8 303.63,726.8"/><line x1="304.2" y1="493" x2="304.2" y2="479"/><line x1="325.4" y1="515" x2="325.4" y2="501"/><polygon points="325.4,493 327.3,501 323.5,501"/><line x1="325.4" y1="539.5" x2="325.4" y2="520.5"/><polygon points="325.4,512.5 327.3,520.5 323.5,520.5"/><line x1="325.4" y1="558" x2="325.4" y2="546"/><polygon points="325.4,538 327.3,546 323.5,546"/><line x1="325.4" y1="580" x2="325.4" y2="570"/><polygon points="325.4,562 327.3,570 323.5,570"/><line x1="325.4" y1="602.7" x2="325.4" y2="593.7"/><polygon points="325.4,585.7 327.3,593.7 323.5,593.7"/><line x1="325.4" y1="624" x2="325.4" y2="616"/><polygon points="325.4,608 327.3,616 323.5,616"/><line x1="325.4" y1="645.4" x2="325.4" y2="637.4"/><polygon points="325.4,629.4 327.3,637.4 323.5,637.4"/><line x1="325.4" y1="666.7" x2="325.4" y2="659.7"/><polygon points="325.4,651.7 327.3,659.7 323.5,659.7"/><line x1="325.4" y1="687" x2="325.4" y2="680"/><polygon points="325.4,672 327.3,680 323.5,680"/><line x1="325.4" y1="706.5" x2="325.4" y2="703.3"/><polygon points="325.4,698.5 326.22,703.3 324.58,703.3"/><line x1="325.4" y1="728" x2="325.4" y2="726.8"/><polygon points="325.4,725 325.97,726.8 324.83,726.8"/><line x1="325.4" y1="493" x2="325.4" y2="479"/><line x1="346.9" y1="515" x2="346.9" y2="501"/><polygon points="346.9,493 348.8,501 345,501"/><line x1="346.9" y1="539.5" x2="346.9" y2="520.5"/><polygon points="346.9,512.5 348.8,520.5 345,520.5"/><line x1="346.9" y1="558" x2="346.9" y2="546"/><polygon points="346.9,538 348.8,546 345,546"/><line x1="346.9" y1="580" x2="346.9" y2="570"/><polygon points="346.9,562 348.8,570 345,570"/><line x1="346.9" y1="602.7" x2="346.9" y2="593.7"/><polygon points="346.9,585.7 348.8,593.7 345,593.7"/><line x1="346.9" y1="624" x2="346.9" y2="616"/><polygon points="346.9,608 348.8,616 345,616"/><line x1="346.9" y1="645.4" x2="346.9" y2="637.4"/><polygon points="346.9,629.4 348.8,637.4 345,637.4"/><line x1="346.9" y1="666.7" x2="346.9" y2="659.7"/><polygon points="346.9,651.7 348.8,659.7 345,659.7"/><line x1="346.9" y1="687" x2="346.9" y2="680"/><polygon points="346.9,672 348.8,680 345,680"/><line x1="346.9" y1="706.5" x2="346.9" y2="703.3"/><polygon points="346.9,698.5 347.72,703.3 346.08,703.3"/><line x1="346.9" y1="728" x2="346.9" y2="726.8"/><polygon points="346.9,725 347.47,726.8 346.33,726.8"/><line x1="346.9" y1="493" x2="349.3" y2="479"/><line x1="367.8" y1="515" x2="367.8" y2="501"/><polygon points="367.8,493 369.7,501 365.9,501"/><line x1="367.8" y1="539.5" x2="367.8" y2="520.5"/><polygon points="367.8,512.5 369.7,520.5 365.9,520.5"/><line x1="367.8" y1="558" x2="367.8" y2="546"/><polygon points="367.8,538 369.7,546 365.9,546"/><line x1="367.8" y1="580" x2="367.8" y2="570"/><polygon points="367.8,562 369.7,570 365.9,570"/><line x1="367.8" y1="602.7" x2="367.8" y2="593.7"/><polygon points="367.8,585.7 369.7,593.7 365.9,593.7"/><line x1="367.8" y1="624" x2="367.8" y2="616"/><polygon points="367.8,608 369.7,616 365.9,616"/><line x1="367.8" y1="645.4" x2="367.8" y2="637.4"/><polygon points="367.8,629.4 369.7,637.4 365.9,637.4"/><line x1="367.8" y1="666.7" x2="367.8" y2="659.7"/><polygon points="367.8,651.7 369.7,659.7 365.9,659.7"/><line x1="367.8" y1="687" x2="367.8" y2="680"/><polygon points="367.8,672 369.7,680 365.9,680"/><line x1="367.8" y1="706.5" x2="367.8" y2="703.3"/><polygon points="367.8,698.5 368.62,703.3 366.98,703.3"/><line x1="367.8" y1="728" x2="367.8" y2="726.8"/><polygon points="367.8,725 368.37,726.8 367.23,726.8"/><line x1="367.8" y1="493" x2="373" y2="479"/><line x1="389.4" y1="515" x2="389.4" y2="501"/><polygon points="389.4,493 391.3,501 387.5,501"/><line x1="389.4" y1="539.5" x2="389.4" y2="520.5"/><polygon points="389.4,512.5 391.3,520.5 387.5,520.5"/><line x1="389.4" y1="558" x2="389.4" y2="546"/><polygon points="389.4,538 391.3,546 387.5,546"/><line x1="389.4" y1="580" x2="389.4" y2="570"/><polygon points="389.4,562 391.3,570 387.5,570"/><line x1="389.4" y1="602.7" x2="389.4" y2="593.7"/><polygon points="389.4,585.7 391.3,593.7 387.5,593.7"/><line x1="389.4" y1="624" x2="389.4" y2="616"/><polygon points="389.4,608 391.3,616 387.5,616"/><line x1="389.4" y1="645.4" x2="389.4" y2="637.4"/><polygon points="389.4,629.4 391.3,637.4 387.5,637.4"/><line x1="389.4" y1="666.7" x2="389.4" y2="659.7"/><polygon points="389.4,651.7 391.3,659.7 387.5,659.7"/><line x1="389.4" y1="687" x2="389.4" y2="680"/><polygon points="389.4,672 391.3,680 387.5,680"/><line x1="389.4" y1="706.5" x2="389.4" y2="703.3"/><polygon points="389.4,698.5 390.22,703.3 388.58,703.3"/><line x1="389.4" y1="728" x2="389.4" y2="726.8"/><polygon points="389.4,725 389.97,726.8 388.83,726.8"/><line x1="389.4" y1="493" x2="396" y2="479"/></g><g class="ar" style="stroke-width:1" opacity="0.8"><line x1="176" y1="550" x2="176" y2="546"/><polygon points="176,540 176.97,546 175.03,546"/><line x1="176" y1="577" x2="176" y2="571"/><polygon points="176,565 177.27,571 174.73,571"/><line x1="176" y1="602" x2="176" y2="596"/><polygon points="176,590 177.27,596 174.73,596"/><line x1="176" y1="624" x2="176" y2="618"/><polygon points="176,612 177.27,618 174.73,618"/><line x1="176" y1="646" x2="176" y2="642"/><polygon points="176,636 176.97,642 175.03,642"/><line x1="176" y1="668" x2="176" y2="664.8"/><polygon points="176,660 176.69,664.8 175.31,664.8"/><line x1="176" y1="690" x2="176" y2="687.6"/><polygon points="176,684 176.48,687.6 175.52,687.6"/><line x1="413" y1="550" x2="413" y2="546"/><polygon points="413,540 413.97,546 412.03,546"/><line x1="413" y1="577" x2="413" y2="571"/><polygon points="413,565 414.27,571 411.73,571"/><line x1="413" y1="602" x2="413" y2="596"/><polygon points="413,590 414.27,596 411.73,596"/><line x1="413" y1="624" x2="413" y2="618"/><polygon points="413,612 414.27,618 411.73,618"/><line x1="413" y1="646" x2="413" y2="642"/><polygon points="413,636 413.97,642 412.03,642"/><line x1="413" y1="668" x2="413" y2="664.8"/><polygon points="413,660 413.69,664.8 412.31,664.8"/><line x1="413" y1="690" x2="413" y2="687.6"/><polygon points="413,684 413.48,687.6 412.52,687.6"/></g>
<rect x="106.5" y="815.3" width="406.3" height="18.1" fill="url(#jet)" stroke="#222" stroke-width="0.8"/>
<path d="M147.13 815.3V833.4M187.76 815.3V833.4M228.39 815.3V833.4M269.02 815.3V833.4M309.65 815.3V833.4M350.28 815.3V833.4M390.91 815.3V833.4M431.54 815.3V833.4M472.17 815.3V833.4" stroke="#222" stroke-width="0.7" stroke-opacity="0.6"/>
<text x="147.13" y="843.4" font-size="10.5" text-anchor="middle">1</text>
<text x="187.76" y="843.4" font-size="10.5" text-anchor="middle">2</text>
<text x="228.39" y="843.4" font-size="10.5" text-anchor="middle">3</text>
<text x="269.02" y="843.4" font-size="10.5" text-anchor="middle">4</text>
<text x="309.65" y="843.4" font-size="10.5" text-anchor="middle">5</text>
<text x="350.28" y="843.4" font-size="10.5" text-anchor="middle">6</text>
<text x="390.91" y="843.4" font-size="10.5" text-anchor="middle">7</text>
<text x="431.54" y="843.4" font-size="10.5" text-anchor="middle">8</text>
<text x="472.17" y="843.4" font-size="10.5" text-anchor="middle">9</text>
<text x="512.8" y="843.4" font-size="10.5" text-anchor="middle">10</text>
<text x="12.4" y="444.6" font-size="12" stroke="#16202a" stroke-width="0.15" textLength="619.6" lengthAdjust="spacingAndGlyphs">Time=1800 s Arrow Volume: Velocity field, continuous phase (Spatial) Slice: Volume fraction, dispersed phase</text>
<text x="15" y="468.8" font-size="21" font-weight="bold" fill="#000">b</text>
<path d="M20.5 820.3H30.5L25.5 828.3Z" fill="#111"/>
<text x="36" y="828.1" font-size="11.3" textLength="48" lengthAdjust="spacingAndGlyphs">7.06×10</text>
<text x="85" y="823.1" font-size="10.5">-8</text>
<text x="514.2" y="822.2" font-size="11.3" textLength="22" lengthAdjust="spacingAndGlyphs">×10</text>
<text x="536.3" y="817.7" font-size="10.5">-6</text>
<path d="M558.4 828.1H568.6L563.5 820.1Z" fill="#111"/>
<text x="574" y="828.7" font-size="11.3" textLength="46.5" lengthAdjust="spacingAndGlyphs">1.53×10</text>
<text x="621.5" y="823.7" font-size="10.5">-5</text>
<rect x="1.2" y="864.5" width="644.8" height="416.5" fill="url(#bg)"/>
<g clip-path="url(#clipc)"><g filter="url(#cmap)">
<rect x="127.2" y="894.2" width="338.4" height="336.4" fill="rgb(162,162,162)"/>
<g filter="url(#b5)">
<rect x="135" y="958" width="39" height="42" fill="rgb(147,147,147)"/>
</g>
<g filter="url(#b6)">
<rect x="175" y="950" width="25" height="150" fill="rgb(170,170,170)"/>
</g>
<g filter="url(#b5)">
<rect x="418.8" y="958" width="39" height="42" fill="rgb(147,147,147)"/>
</g>
<g filter="url(#b6)">
<rect x="392.8" y="950" width="25" height="150" fill="rgb(170,170,170)"/>
</g>
<g filter="url(#b10)">
<rect x="140" y="1095" width="310" height="145" fill="rgb(144,144,144)"/>
</g>
<g filter="url(#b9)">
<rect x="140" y="1125" width="310" height="115" fill="rgb(130,130,130)"/>
</g>
<g filter="url(#b8)">
<rect x="174" y="1148" width="244" height="44" fill="rgb(119,119,119)"/>
</g>
<g filter="url(#b5)">
<rect x="140" y="1190" width="310" height="15" fill="rgb(128,128,128)"/>
</g>
<g filter="url(#b3)">
<ellipse cx="228" cy="934" rx="48" ry="5" fill="rgb(178,178,178)"/>
<ellipse cx="364" cy="934" rx="48" ry="5" fill="rgb(178,178,178)"/>
</g>
<g filter="url(#b9)">
<rect x="262" y="945" width="70" height="155" fill="rgb(150,150,150)"/>
</g>
<g filter="url(#b4)">
<rect x="174" y="912" width="244" height="15" fill="rgb(142,142,142)"/>
</g>
<g filter="url(#b5)">
<rect x="130" y="990" width="44" height="118" fill="rgb(181,181,181)"/>
<ellipse cx="157" cy="1025" rx="9" ry="30" fill="rgb(198,198,198)"/>
<rect x="130" y="1105" width="44" height="37" fill="rgb(167,167,167)"/>
<rect x="130" y="1140" width="44" height="60" fill="rgb(142,142,142)"/>
</g>
<g filter="url(#b6)">
<ellipse cx="159" cy="948" rx="20" ry="32" fill="rgb(130,130,130)"/>
</g>
<g filter="url(#b5)">
<ellipse cx="158" cy="942" rx="15" ry="22" fill="rgb(91,91,91)"/>
</g>
<g filter="url(#b4)">
<ellipse cx="157" cy="938" rx="10" ry="15" fill="rgb(45,45,45)"/>
</g>
<g filter="url(#b5)">
<ellipse cx="167" cy="1161" rx="13" ry="14" fill="rgb(102,102,102)"/>
</g>
<g filter="url(#b4)">
<ellipse cx="165" cy="1160" rx="6" ry="8" fill="rgb(79,79,79)"/>
</g>
<g filter="url(#b5)">
<rect x="418.8" y="990" width="44" height="118" fill="rgb(181,181,181)"/>
<ellipse cx="435.8" cy="1025" rx="9" ry="30" fill="rgb(198,198,198)"/>
<rect x="418.8" y="1105" width="44" height="37" fill="rgb(167,167,167)"/>
<rect x="418.8" y="1140" width="44" height="60" fill="rgb(142,142,142)"/>
</g>
<g filter="url(#b6)">
<ellipse cx="433.8" cy="948" rx="20" ry="32" fill="rgb(130,130,130)"/>
</g>
<g filter="url(#b5)">
<ellipse cx="434.8" cy="942" rx="15" ry="22" fill="rgb(91,91,91)"/>
</g>
<g filter="url(#b4)">
<ellipse cx="435.8" cy="938" rx="10" ry="15" fill="rgb(45,45,45)"/>
</g>
<g filter="url(#b5)">
<ellipse cx="425.8" cy="1161" rx="13" ry="14" fill="rgb(102,102,102)"/>
</g>
<g filter="url(#b4)">
<ellipse cx="427.8" cy="1160" rx="6" ry="8" fill="rgb(79,79,79)"/>
</g>
<g filter="url(#b2)">
<rect x="140" y="1202" width="310" height="13" fill="rgb(159,159,159)"/>
</g>
</g></g>
<line x1="147.2" y1="1209.4" x2="445.6" y2="1209.4" stroke="#8c0a00" stroke-width="2.6" opacity="0.95"/>
<line x1="148" y1="914.2" x2="148" y2="1210.6" stroke="#a01000" stroke-width="1.6" opacity="0.85"/>
<line x1="444.8" y1="914.2" x2="444.8" y2="1210.6" stroke="#a01000" stroke-width="1.6" opacity="0.85"/>
<g fill="none" stroke="#141c24" stroke-width="1.4">
<path d="M136.6 914.2V1233.8H456.4V914.2"/>
<path d="M136.6 914.2H456.4"/>
<path d="M136.6 1233.8L147.2 1210.6M456.4 1233.8L445.6 1210.6"/>
<path d="M174.5 914.2V1188.1H418V914.2"/>
<circle cx="296.2" cy="1218.4" r="16.6"/>
</g>
<g class="ar" style="stroke-width:1.9"><line x1="200.6" y1="946.5" x2="200.6" y2="936.5"/><polygon points="200.6,927.5 202.9,936.5 198.3,936.5"/><line x1="200.6" y1="969.8" x2="200.6" y2="954.8"/><polygon points="200.6,945.8 202.9,954.8 198.3,954.8"/><line x1="200.6" y1="990" x2="200.6" y2="978"/><polygon points="200.6,969 202.9,978 198.3,978"/><line x1="200.6" y1="1008.4" x2="200.6" y2="998.4"/><polygon points="200.6,989.4 202.9,998.4 198.3,998.4"/><line x1="200.6" y1="1031" x2="200.6" y2="1016"/><polygon points="200.6,1007 202.9,1016 198.3,1016"/><line x1="200.6" y1="1057" x2="200.6" y2="1039"/><polygon points="200.6,1030 202.9,1039 198.3,1039"/><line x1="200.6" y1="1078" x2="200.6" y2="1065"/><polygon points="200.6,1056 202.9,1065 198.3,1065"/><line x1="200.6" y1="1097" x2="200.6" y2="1090"/><polygon points="200.6,1081 202.9,1090 198.3,1090"/><line x1="200.6" y1="1114.6" x2="200.6" y2="1110.6"/><polygon points="200.6,1104.6 201.99,1110.6 199.21,1110.6"/><line x1="200.6" y1="1136" x2="200.6" y2="1133.2"/><polygon points="200.6,1129 201.41,1133.2 199.79,1133.2"/><line x1="200.6" y1="1159" x2="200.6" y2="1158.2"/><polygon points="200.6,1157 201.29,1158.2 199.91,1158.2"/><line x1="200.6" y1="927.5" x2="195.9" y2="912"/><line x1="222" y1="946.5" x2="222" y2="936.5"/><polygon points="222,927.5 224.3,936.5 219.7,936.5"/><line x1="222" y1="969.8" x2="222" y2="954.8"/><polygon points="222,945.8 224.3,954.8 219.7,954.8"/><line x1="222" y1="990" x2="222" y2="978"/><polygon points="222,969 224.3,978 219.7,978"/><line x1="222" y1="1008.4" x2="222" y2="998.4"/><polygon points="222,989.4 224.3,998.4 219.7,998.4"/><line x1="222" y1="1031" x2="222" y2="1016"/><polygon points="222,1007 224.3,1016 219.7,1016"/><line x1="222" y1="1057" x2="222" y2="1039"/><polygon points="222,1030 224.3,1039 219.7,1039"/><line x1="222" y1="1078" x2="222" y2="1065"/><polygon points="222,1056 224.3,1065 219.7,1065"/><line x1="222" y1="1097" x2="222" y2="1090"/><polygon points="222,1081 224.3,1090 219.7,1090"/><line x1="222" y1="1114.6" x2="222" y2="1110.6"/><polygon points="222,1104.6 223.39,1110.6 220.61,1110.6"/><line x1="222" y1="1136" x2="222" y2="1133.2"/><polygon points="222,1129 222.81,1133.2 221.19,1133.2"/><line x1="222" y1="1159" x2="222" y2="1158.2"/><polygon points="222,1157 222.69,1158.2 221.31,1158.2"/><line x1="222" y1="927.5" x2="218.3" y2="912"/><line x1="242.8" y1="946.5" x2="242.8" y2="936.5"/><polygon points="242.8,927.5 245.1,936.5 240.5,936.5"/><line x1="242.8" y1="969.8" x2="242.8" y2="954.8"/><polygon points="242.8,945.8 245.1,954.8 240.5,954.8"/><line x1="242.8" y1="990" x2="242.8" y2="978"/><polygon points="242.8,969 245.1,978 240.5,978"/><line x1="242.8" y1="1008.4" x2="242.8" y2="998.4"/><polygon points="242.8,989.4 245.1,998.4 240.5,998.4"/><line x1="242.8" y1="1031" x2="242.8" y2="1016"/><polygon points="242.8,1007 245.1,1016 240.5,1016"/><line x1="242.8" y1="1057" x2="242.8" y2="1039"/><polygon points="242.8,1030 245.1,1039 240.5,1039"/><line x1="242.8" y1="1078" x2="242.8" y2="1065"/><polygon points="242.8,1056 245.1,1065 240.5,1065"/><line x1="242.8" y1="1097" x2="242.8" y2="1090"/><polygon points="242.8,1081 245.1,1090 240.5,1090"/><line x1="242.8" y1="1114.6" x2="242.8" y2="1110.6"/><polygon points="242.8,1104.6 244.19,1110.6 241.41,1110.6"/><line x1="242.8" y1="1136" x2="242.8" y2="1133.2"/><polygon points="242.8,1129 243.61,1133.2 241.99,1133.2"/><line x1="242.8" y1="1159" x2="242.8" y2="1158.2"/><polygon points="242.8,1157 243.49,1158.2 242.11,1158.2"/><line x1="242.8" y1="927.5" x2="241.2" y2="912"/><line x1="264.2" y1="946.5" x2="264.2" y2="936.5"/><polygon points="264.2,927.5 266.5,936.5 261.9,936.5"/><line x1="264.2" y1="969.8" x2="264.2" y2="954.8"/><polygon points="264.2,945.8 266.5,954.8 261.9,954.8"/><line x1="264.2" y1="990" x2="264.2" y2="978"/><polygon points="264.2,969 266.5,978 261.9,978"/><line x1="264.2" y1="1008.4" x2="264.2" y2="998.4"/><polygon points="264.2,989.4 266.5,998.4 261.9,998.4"/><line x1="264.2" y1="1031" x2="264.2" y2="1016"/><polygon points="264.2,1007 266.5,1016 261.9,1016"/><line x1="264.2" y1="1057" x2="264.2" y2="1039"/><polygon points="264.2,1030 266.5,1039 261.9,1039"/><line x1="264.2" y1="1078" x2="264.2" y2="1065"/><polygon points="264.2,1056 266.5,1065 261.9,1065"/><line x1="264.2" y1="1097" x2="264.2" y2="1090"/><polygon points="264.2,1081 266.5,1090 261.9,1090"/><line x1="264.2" y1="1114.6" x2="264.2" y2="1110.6"/><polygon points="264.2,1104.6 265.59,1110.6 262.81,1110.6"/><line x1="264.2" y1="1136" x2="264.2" y2="1133.2"/><polygon points="264.2,1129 265.01,1133.2 263.39,1133.2"/><line x1="264.2" y1="1159" x2="264.2" y2="1158.2"/><polygon points="264.2,1157 264.89,1158.2 263.51,1158.2"/><line x1="264.2" y1="927.5" x2="264.2" y2="912"/><line x1="285.3" y1="946.5" x2="285.3" y2="936.5"/><polygon points="285.3,927.5 287.6,936.5 283,936.5"/><line x1="285.3" y1="969.8" x2="285.3" y2="954.8"/><polygon points="285.3,945.8 287.6,954.8 283,954.8"/><line x1="285.3" y1="990" x2="285.3" y2="978"/><polygon points="285.3,969 287.6,978 283,978"/><line x1="285.3" y1="1008.4" x2="285.3" y2="998.4"/><polygon points="285.3,989.4 287.6,998.4 283,998.4"/><line x1="285.3" y1="1031" x2="285.3" y2="1016"/><polygon points="285.3,1007 287.6,1016 283,1016"/><line x1="285.3" y1="1057" x2="285.3" y2="1039"/><polygon points="285.3,1030 287.6,1039 283,1039"/><line x1="285.3" y1="1078" x2="285.3" y2="1065"/><polygon points="285.3,1056 287.6,1065 283,1065"/><line x1="285.3" y1="1097" x2="285.3" y2="1090"/><polygon points="285.3,1081 287.6,1090 283,1090"/><line x1="285.3" y1="1114.6" x2="285.3" y2="1110.6"/><polygon points="285.3,1104.6 286.69,1110.6 283.91,1110.6"/><line x1="285.3" y1="1136" x2="285.3" y2="1133.2"/><polygon points="285.3,1129 286.11,1133.2 284.49,1133.2"/><line x1="285.3" y1="1159" x2="285.3" y2="1158.2"/><polygon points="285.3,1157 285.99,1158.2 284.61,1158.2"/><line x1="285.3" y1="927.5" x2="285.3" y2="912"/><line x1="306.3" y1="946.5" x2="306.3" y2="936.5"/><polygon points="306.3,927.5 308.6,936.5 304,936.5"/><line x1="306.3" y1="969.8" x2="306.3" y2="954.8"/><polygon points="306.3,945.8 308.6,954.8 304,954.8"/><line x1="306.3" y1="990" x2="306.3" y2="978"/><polygon points="306.3,969 308.6,978 304,978"/><line x1="306.3" y1="1008.4" x2="306.3" y2="998.4"/><polygon points="306.3,989.4 308.6,998.4 304,998.4"/><line x1="306.3" y1="1031" x2="306.3" y2="1016"/><polygon points="306.3,1007 308.6,1016 304,1016"/><line x1="306.3" y1="1057" x2="306.3" y2="1039"/><polygon points="306.3,1030 308.6,1039 304,1039"/><line x1="306.3" y1="1078" x2="306.3" y2="1065"/><polygon points="306.3,1056 308.6,1065 304,1065"/><line x1="306.3" y1="1097" x2="306.3" y2="1090"/><polygon points="306.3,1081 308.6,1090 304,1090"/><line x1="306.3" y1="1114.6" x2="306.3" y2="1110.6"/><polygon points="306.3,1104.6 307.69,1110.6 304.91,1110.6"/><line x1="306.3" y1="1136" x2="306.3" y2="1133.2"/><polygon points="306.3,1129 307.11,1133.2 305.49,1133.2"/><line x1="306.3" y1="1159" x2="306.3" y2="1158.2"/><polygon points="306.3,1157 306.99,1158.2 305.61,1158.2"/><line x1="306.3" y1="927.5" x2="306.3" y2="912"/><line x1="327.6" y1="946.5" x2="327.6" y2="936.5"/><polygon points="327.6,927.5 329.9,936.5 325.3,936.5"/><line x1="327.6" y1="969.8" x2="327.6" y2="954.8"/><polygon points="327.6,945.8 329.9,954.8 325.3,954.8"/><line x1="327.6" y1="990" x2="327.6" y2="978"/><polygon points="327.6,969 329.9,978 325.3,978"/><line x1="327.6" y1="1008.4" x2="327.6" y2="998.4"/><polygon points="327.6,989.4 329.9,998.4 325.3,998.4"/><line x1="327.6" y1="1031" x2="327.6" y2="1016"/><polygon points="327.6,1007 329.9,1016 325.3,1016"/><line x1="327.6" y1="1057" x2="327.6" y2="1039"/><polygon points="327.6,1030 329.9,1039 325.3,1039"/><line x1="327.6" y1="1078" x2="327.6" y2="1065"/><polygon points="327.6,1056 329.9,1065 325.3,1065"/><line x1="327.6" y1="1097" x2="327.6" y2="1090"/><polygon points="327.6,1081 329.9,1090 325.3,1090"/><line x1="327.6" y1="1114.6" x2="327.6" y2="1110.6"/><polygon points="327.6,1104.6 328.99,1110.6 326.21,1110.6"/><line x1="327.6" y1="1136" x2="327.6" y2="1133.2"/><polygon points="327.6,1129 328.41,1133.2 326.79,1133.2"/><line x1="327.6" y1="1159" x2="327.6" y2="1158.2"/><polygon points="327.6,1157 328.29,1158.2 326.91,1158.2"/><line x1="327.6" y1="927.5" x2="327.6" y2="912"/><line x1="348.5" y1="946.5" x2="348.5" y2="936.5"/><polygon points="348.5,927.5 350.8,936.5 346.2,936.5"/><line x1="348.5" y1="969.8" x2="348.5" y2="954.8"/><polygon points="348.5,945.8 350.8,954.8 346.2,954.8"/><line x1="348.5" y1="990" x2="348.5" y2="978"/><polygon points="348.5,969 350.8,978 346.2,978"/><line x1="348.5" y1="1008.4" x2="348.5" y2="998.4"/><polygon points="348.5,989.4 350.8,998.4 346.2,998.4"/><line x1="348.5" y1="1031" x2="348.5" y2="1016"/><polygon points="348.5,1007 350.8,1016 346.2,1016"/><line x1="348.5" y1="1057" x2="348.5" y2="1039"/><polygon points="348.5,1030 350.8,1039 346.2,1039"/><line x1="348.5" y1="1078" x2="348.5" y2="1065"/><polygon points="348.5,1056 350.8,1065 346.2,1065"/><line x1="348.5" y1="1097" x2="348.5" y2="1090"/><polygon points="348.5,1081 350.8,1090 346.2,1090"/><line x1="348.5" y1="1114.6" x2="348.5" y2="1110.6"/><polygon points="348.5,1104.6 349.89,1110.6 347.11,1110.6"/><line x1="348.5" y1="1136" x2="348.5" y2="1133.2"/><polygon points="348.5,1129 349.31,1133.2 347.69,1133.2"/><line x1="348.5" y1="1159" x2="348.5" y2="1158.2"/><polygon points="348.5,1157 349.19,1158.2 347.81,1158.2"/><line x1="348.5" y1="927.5" x2="351" y2="912"/><line x1="369" y1="946.5" x2="369" y2="936.5"/><polygon points="369,927.5 371.3,936.5 366.7,936.5"/><line x1="369" y1="969.8" x2="369" y2="954.8"/><polygon points="369,945.8 371.3,954.8 366.7,954.8"/><line x1="369" y1="990" x2="369" y2="978"/><polygon points="369,969 371.3,978 366.7,978"/><line x1="369" y1="1008.4" x2="369" y2="998.4"/><polygon points="369,989.4 371.3,998.4 366.7,998.4"/><line x1="369" y1="1031" x2="369" y2="1016"/><polygon points="369,1007 371.3,1016 366.7,1016"/><line x1="369" y1="1057" x2="369" y2="1039"/><polygon points="369,1030 371.3,1039 366.7,1039"/><line x1="369" y1="1078" x2="369" y2="1065"/><polygon points="369,1056 371.3,1065 366.7,1065"/><line x1="369" y1="1097" x2="369" y2="1090"/><polygon points="369,1081 371.3,1090 366.7,1090"/><line x1="369" y1="1114.6" x2="369" y2="1110.6"/><polygon points="369,1104.6 370.39,1110.6 367.61,1110.6"/><line x1="369" y1="1136" x2="369" y2="1133.2"/><polygon points="369,1129 369.81,1133.2 368.19,1133.2"/><line x1="369" y1="1159" x2="369" y2="1158.2"/><polygon points="369,1157 369.69,1158.2 368.31,1158.2"/><line x1="369" y1="927.5" x2="373.8" y2="912"/><line x1="390.7" y1="946.5" x2="390.7" y2="936.5"/><polygon points="390.7,927.5 393,936.5 388.4,936.5"/><line x1="390.7" y1="969.8" x2="390.7" y2="954.8"/><polygon points="390.7,945.8 393,954.8 388.4,954.8"/><line x1="390.7" y1="990" x2="390.7" y2="978"/><polygon points="390.7,969 393,978 388.4,978"/><line x1="390.7" y1="1008.4" x2="390.7" y2="998.4"/><polygon points="390.7,989.4 393,998.4 388.4,998.4"/><line x1="390.7" y1="1031" x2="390.7" y2="1016"/><polygon points="390.7,1007 393,1016 388.4,1016"/><line x1="390.7" y1="1057" x2="390.7" y2="1039"/><polygon points="390.7,1030 393,1039 388.4,1039"/><line x1="390.7" y1="1078" x2="390.7" y2="1065"/><polygon points="390.7,1056 393,1065 388.4,1065"/><line x1="390.7" y1="1097" x2="390.7" y2="1090"/><polygon points="390.7,1081 393,1090 388.4,1090"/><line x1="390.7" y1="1114.6" x2="390.7" y2="1110.6"/><polygon points="390.7,1104.6 392.09,1110.6 389.31,1110.6"/><line x1="390.7" y1="1136" x2="390.7" y2="1133.2"/><polygon points="390.7,1129 391.51,1133.2 389.89,1133.2"/><line x1="390.7" y1="1159" x2="390.7" y2="1158.2"/><polygon points="390.7,1157 391.39,1158.2 390.01,1158.2"/><line x1="390.7" y1="927.5" x2="396.7" y2="912"/></g><g class="ar" style="stroke-width:1" opacity="0.7"><line x1="179" y1="976" x2="179" y2="972.8"/><polygon points="179,968 179.69,972.8 178.31,972.8"/><line x1="179" y1="1002" x2="179" y2="996"/><polygon points="179,990 180.27,996 177.73,996"/><line x1="179" y1="1022" x2="179" y2="1016"/><polygon points="179,1010 180.27,1016 177.73,1016"/><line x1="179" y1="1045" x2="179" y2="1039"/><polygon points="179,1033 180.27,1039 177.73,1039"/><line x1="179" y1="1068" x2="179" y2="1064"/><polygon points="179,1058 179.97,1064 178.03,1064"/><line x1="179" y1="1090" x2="179" y2="1086.8"/><polygon points="179,1082 179.69,1086.8 178.31,1086.8"/><line x1="179" y1="1111" x2="179" y2="1109"/><polygon points="179,1106 179.48,1109 178.52,1109"/><line x1="414" y1="976" x2="414" y2="972.8"/><polygon points="414,968 414.69,972.8 413.31,972.8"/><line x1="414" y1="1002" x2="414" y2="996"/><polygon points="414,990 415.27,996 412.73,996"/><line x1="414" y1="1022" x2="414" y2="1016"/><polygon points="414,1010 415.27,1016 412.73,1016"/><line x1="414" y1="1045" x2="414" y2="1039"/><polygon points="414,1033 415.27,1039 412.73,1039"/><line x1="414" y1="1068" x2="414" y2="1064"/><polygon points="414,1058 414.97,1064 413.03,1064"/><line x1="414" y1="1090" x2="414" y2="1086.8"/><polygon points="414,1082 414.69,1086.8 413.31,1086.8"/><line x1="414" y1="1111" x2="414" y2="1109"/><polygon points="414,1106 414.48,1109 413.52,1109"/></g>
<rect x="110.8" y="1246.2" width="403" height="17.5" fill="url(#jet)" stroke="#222" stroke-width="0.8"/>
<path d="M155.58 1246.2V1263.7M200.36 1246.2V1263.7M245.13 1246.2V1263.7M289.91 1246.2V1263.7M334.69 1246.2V1263.7M379.47 1246.2V1263.7M424.24 1246.2V1263.7M469.02 1246.2V1263.7" stroke="#222" stroke-width="0.7" stroke-opacity="0.6"/>
<text x="110.8" y="1273.7" font-size="10.5" text-anchor="middle">1</text>
<text x="155.58" y="1273.7" font-size="10.5" text-anchor="middle">2</text>
<text x="200.36" y="1273.7" font-size="10.5" text-anchor="middle">3</text>
<text x="245.13" y="1273.7" font-size="10.5" text-anchor="middle">4</text>
<text x="289.91" y="1273.7" font-size="10.5" text-anchor="middle">5</text>
<text x="334.69" y="1273.7" font-size="10.5" text-anchor="middle">6</text>
<text x="379.47" y="1273.7" font-size="10.5" text-anchor="middle">7</text>
<text x="424.24" y="1273.7" font-size="10.5" text-anchor="middle">8</text>
<text x="469.02" y="1273.7" font-size="10.5" text-anchor="middle">9</text>
<text x="513.8" y="1273.7" font-size="10.5" text-anchor="middle">10</text>
<text x="17" y="877.7" font-size="12" stroke="#16202a" stroke-width="0.15" textLength="615" lengthAdjust="spacingAndGlyphs">Time=3600 s Arrow Volume: Velocity field, continuous phase (Spatial) Slice: Volume fraction, dispersed phase</text>
<text x="17" y="903.4" font-size="21" font-weight="bold" fill="#000">c</text>
<path d="M20.5 1251.2H30.5L25.5 1259.2Z" fill="#111"/>
<text x="36" y="1259" font-size="11.3" textLength="48" lengthAdjust="spacingAndGlyphs">9.73×10</text>
<text x="85" y="1254" font-size="10.5">-7</text>
<text x="515.2" y="1253.1" font-size="11.3" textLength="22" lengthAdjust="spacingAndGlyphs">×10</text>
<text x="537.3" y="1248.6" font-size="10.5">-6</text>
<path d="M558.4 1259H568.6L563.5 1251Z" fill="#111"/>
<text x="574" y="1259.6" font-size="11.3" textLength="46.5" lengthAdjust="spacingAndGlyphs">4.91×10</text>
<text x="621.5" y="1254.6" font-size="10.5">-5</text>
</svg></body></html>
